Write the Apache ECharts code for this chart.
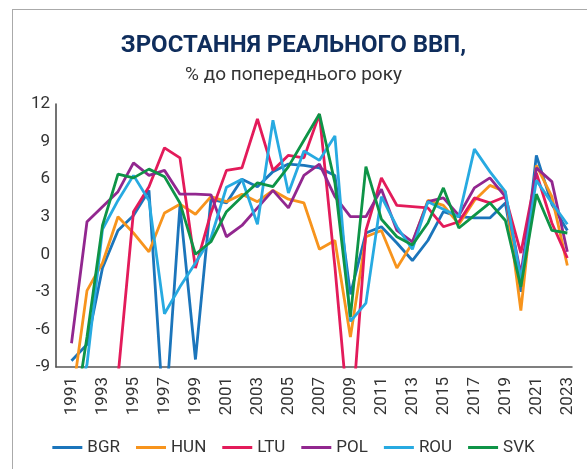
<!DOCTYPE html>
<html>
<head>
<meta charset="utf-8">
<script src="https://cdn.jsdelivr.net/npm/echarts@6/dist/echarts.min.js"></script>
<style>
  html, body { margin: 0; padding: 0; background: #fff; }
  #frame { position: absolute; left: 12px; top: 9px; width: 575px; height: 460px;
           border-top: 1px solid #aaa; border-left: 1px solid #aaa; }
  #chart { position: absolute; left: 0; top: 0; width: 587px; height: 469px; }
</style>
</head>
<body>
<div id="frame"></div>
<div id="chart"></div>
<script>
var years = [];
for (var y = 1991; y <= 2023; y++) years.push(y);

var countries = ['BGR', 'HUN', 'LTU', 'POL', 'ROU', 'SVK'];
var colors = ['#1b75bb', '#f7941d', '#e31b5a', '#92278f', '#27aae1', '#0e9447'];

var bgr = [-8.5, -7.2, -1.1, 1.9, 3.1, 5.1, -14, 3.9, -8.4, 4.4,
           4.1, 6.0, 5.4, 6.6, 7.2, 7.1, 6.9, 6.3, -3.2, 1.7,
           2.2, 0.9, -0.5, 1.1, 3.4, 3.0, 2.9, 2.9, 4.1, -3.0,
           7.9, 4.0, 1.9];
var hun = [-11.9, -2.9, -0.7, 3.0, 1.7, 0.2, 3.3, 4.0, 3.2, 4.6,
           4.2, 4.8, 4.2, 5.1, 4.4, 4.1, 0.4, 1.1, -6.6, 1.4,
           1.9, -1.1, 0.9, 4.3, 3.9, 2.4, 4.3, 5.5, 5.0, -4.5,
           7.1, 4.6, -0.9];
var ltu = [-13, -21.3, -16.2, -9.8, 3.4, 5.4, 8.5, 7.7, -1.1, 3.3,
           6.7, 6.9, 10.8, 6.7, 7.9, 7.7, 11.2, -1.0, -14.8, 1.9,
           6.1, 3.9, 3.8, 3.7, 2.2, 2.6, 4.5, 4.1, 4.6, 0.1,
           6.5, 2.5, -0.3];
var pol = [-7.1, 2.6, 3.8, 5.0, 7.3, 6.3, 6.7, 4.8, 4.8, 4.75,
           1.4, 2.3, 3.7, 5.1, 3.7, 6.3, 7.2, 4.6, 3.0, 3.0,
           5.2, 1.9, 1.0, 4.2, 4.5, 3.1, 5.3, 6.1, 4.6, -1.6,
           6.9, 5.8, 0.2];
var rou = [-12.9, -8.8, 2.0, 4.3, 6.3, 4.3, -4.75, -2.6, -0.7, 1.3,
           5.35, 6.0, 2.4, 10.7, 4.9, 8.25, 7.5, 9.45, -5.35, -3.9,
           4.6, 2.2, 0.4, 4.2, 3.6, 3.0, 8.4, 6.6, 5.0, -2.0,
           5.9, 4.1, 2.4];
var svk = [-14.6, -6.6, 2.3, 6.4, 6.1, 6.8, 6.2, 4.1, 0.0, 1.0,
           3.4, 4.6, 5.7, 5.4, 7.0, 9.1, 11.2, 5.7, -5.0, 7.0,
           2.8, 1.4, 0.75, 2.5, 5.3, 2.1, 3.1, 4.1, 2.7, -2.6,
           4.8, 1.9, 1.7];

var allValues = [bgr, hun, ltu, pol, rou, svk];

var fontNarrow = '"Liberation Sans Narrow", "Roboto", sans-serif';

var chart = echarts.init(document.getElementById('chart'));

var series = countries.map(function(name, i) {
    return {
        name: name,
        type: 'line',
        data: years.map(function(yr, k) { return [yr, allValues[i][k]]; }),
        symbol: 'none',
        clip: true,
        lineStyle: { color: colors[i], width: 2.8 },
        itemStyle: { color: colors[i] }
    };
});

var option = {
    backgroundColor: 'transparent',
    animation: false,
    title: [{
        text: 'ЗРОСТАННЯ РЕАЛЬНОГО ВВП,',
        left: 'center',
        top: 29,
        textStyle: { color: '#0f2d5c', fontSize: 24, fontWeight: 'bold', fontFamily: fontNarrow }
    }, {
        text: '% до попереднього року',
        left: 'center',
        top: 61,
        textStyle: { color: '#333', fontSize: 19, fontWeight: 'normal', fontFamily: fontNarrow }
    }],
    legend: {
        data: countries,
        bottom: 8,
        left: 'center',
        icon: 'rect',
        itemWidth: 30,
        itemHeight: 3,
        itemGap: 16,
        textStyle: { color: '#333', fontSize: 17, fontFamily: fontNarrow }
    },
    grid: { left: 56, right: 15, top: 104, bottom: 102 },
    xAxis: {
        type: 'value',
        min: 1990,
        max: 2023.3,
        interval: 1,
        axisLine: { show: true, onZero: false, lineStyle: { color: '#555', width: 1.5 } },
        axisTick: { show: false },
        splitLine: { show: false },
        axisLabel: {
            rotate: 90,
            margin: 10,
            color: '#333',
            fontSize: 17,
            fontFamily: fontNarrow,
            showMinLabel: false,
            showMaxLabel: false,
            formatter: function(v) {
                return (Number.isInteger(v) && v % 2 === 1) ? String(v) : '';
            }
        }
    },
    yAxis: {
        type: 'value',
        min: -9,
        max: 12,
        interval: 3,
        axisLine: { show: true, lineStyle: { color: '#444', width: 1.5 } },
        axisTick: { show: false },
        splitLine: { show: false },
        axisLabel: { color: '#333', fontSize: 17, margin: 6, fontFamily: fontNarrow }
    },
    series: series
};

chart.setOption(option);
</script>
</body>
</html>
